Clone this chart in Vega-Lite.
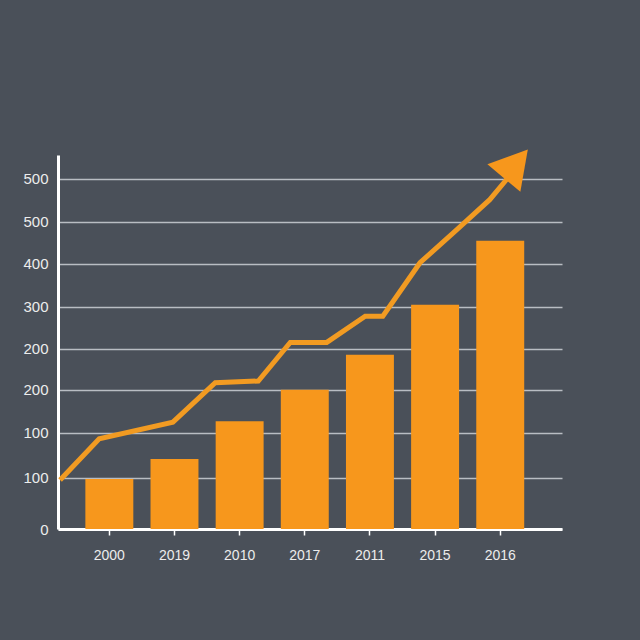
{
  "$schema": "https://vega.github.io/schema/vega-lite/v6.json",
  "autosize": {"type": "none"},
  "padding": {"left": 58, "top": 155, "right": 78, "bottom": 111},
  "width": 504,
  "height": 374,
  "background": "#4a5059",
  "config": {
    "view": {"stroke": null},
    "axis": {"labelFont": "Liberation Sans", "labelColor": "#ececec", "labelFontSize": 15}
  },
  "datasets": {
    "bars": [
      {"year": "2000", "value": 57},
      {"year": "2019", "value": 80},
      {"year": "2010", "value": 123},
      {"year": "2017", "value": 159},
      {"year": "2011", "value": 199},
      {"year": "2015", "value": 256},
      {"year": "2016", "value": 329}
    ],
    "trend": [
      {"pos": -0.75, "value": 56},
      {"pos": -0.15, "value": 103},
      {"pos": 0.98, "value": 122},
      {"pos": 1.63, "value": 167},
      {"pos": 2.29, "value": 169},
      {"pos": 2.78, "value": 213},
      {"pos": 3.34, "value": 213},
      {"pos": 3.93, "value": 243},
      {"pos": 4.2, "value": 243},
      {"pos": 4.77, "value": 304},
      {"pos": 5.34, "value": 342},
      {"pos": 5.84, "value": 376},
      {"pos": 6.12, "value": 401}
    ],
    "arrow": [
      {"pos": 6.24, "value": 417}
    ]
  },
  "layer": [
    {
      "data": {"name": "bars"},
      "mark": {"type": "bar", "color": "#f7971c"},
      "encoding": {
        "x": {
          "field": "year", "type": "nominal", "sort": null,
          "scale": {"paddingInner": 0.264, "paddingOuter": 0.5, "align": 0.42},
          "axis": {
            "title": null, "labelAngle": 0, "labelFontSize": 14, "labelPadding": 13,
            "domainColor": "#ffffff", "domainWidth": 3, "tickColor": "#ffffff",
            "tickSize": 6, "tickWidth": 1.5
          }
        },
        "y": {
          "field": "value", "type": "quantitative",
          "scale": {"domain": [0, 427], "nice": false},
          "axis": {
            "title": null,
            "values": [0, 58.3, 109.7, 158.9, 205.7, 253.7, 302.9, 350.9, 400],
            "labelExpr": "datum.value == 0 ? '0' : datum.value < 120 ? '100' : datum.value < 230 ? '200' : datum.value < 280 ? '300' : datum.value < 330 ? '400' : '500'",
            "labelPadding": 10, "ticks": false,
            "domainColor": "#ffffff", "domainWidth": 3,
            "grid": true, "gridColor": "#b9bdc3", "gridWidth": 1.5
          }
        }
      }
    },
    {
      "data": {"name": "trend"},
      "mark": {"type": "line", "color": "#f29b22", "strokeWidth": 5, "strokeJoin": "miter"},
      "encoding": {
        "x": {"field": "pos", "type": "quantitative", "scale": {"domain": [-0.782, 6.948], "nice": false, "zero": false}, "axis": null},
        "y": {"field": "value", "type": "quantitative"}
      }
    },
    {
      "data": {"name": "arrow"},
      "mark": {"type": "point", "shape": "triangle-up", "filled": true, "color": "#f7971c", "opacity": 1, "size": 1850, "angle": 40},
      "encoding": {
        "x": {"field": "pos", "type": "quantitative", "scale": {"domain": [-0.782, 6.948], "nice": false, "zero": false}, "axis": null},
        "y": {"field": "value", "type": "quantitative"}
      }
    }
  ],
  "resolve": {"scale": {"x": "independent"}}
}
